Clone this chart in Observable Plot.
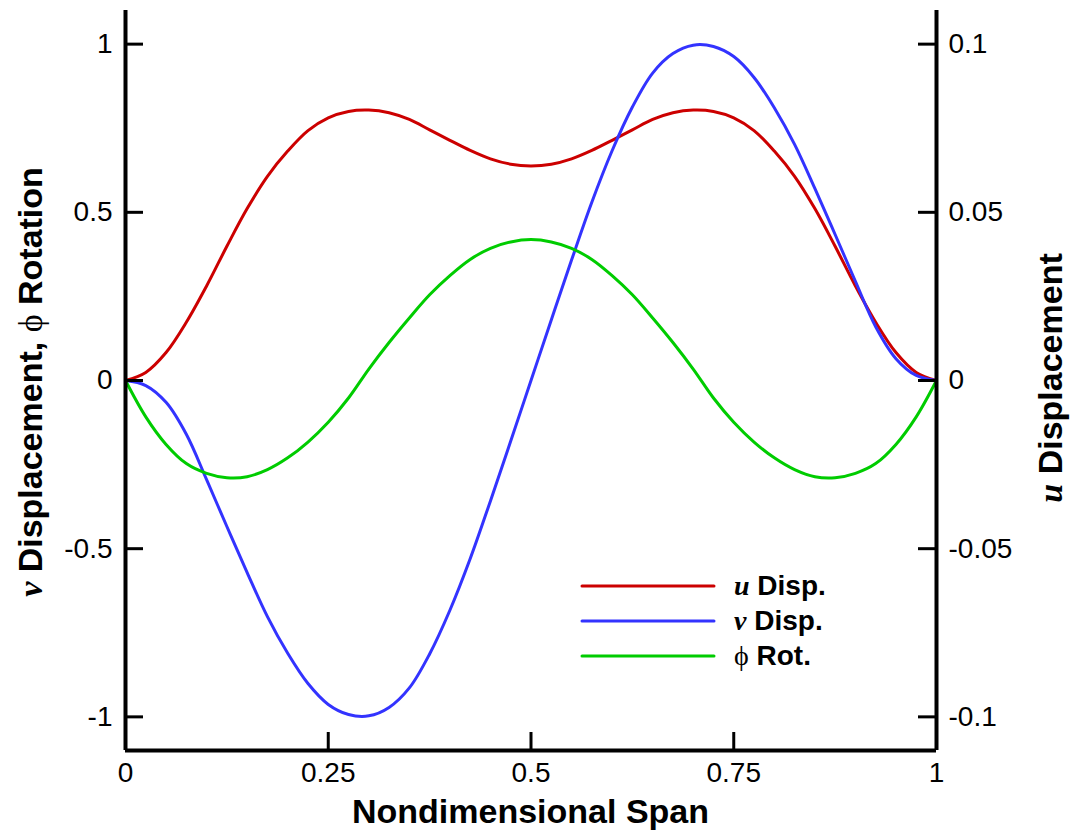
<!DOCTYPE html>
<html><head><meta charset="utf-8">
<script src="https://cdn.jsdelivr.net/npm/d3@7"></script>
<script src="https://cdn.jsdelivr.net/npm/@observablehq/plot@0.6"></script>
<style>
body{margin:0;background:#fff;}
#chart{position:relative;width:1071px;height:835px;}
</style></head><body><div id="chart"></div>
<script>
const span = [0,0.025,0.05,0.075,0.1,0.125,0.15,0.175,0.2,0.225,0.25,0.275,0.3,0.325,0.35,0.375,0.4,0.425,0.45,0.475,0.5,0.525,0.55,0.575,0.6,0.625,0.65,0.675,0.7,0.725,0.75,0.775,0.8,0.825,0.85,0.875,0.9,0.925,0.95,0.975,1];
const uDisp = [0,0.0024,0.0083,0.0173,0.0281,0.0399,0.0511,0.0607,0.0682,0.0743,0.0781,0.08,0.0804,0.0796,0.0776,0.0745,0.0714,0.0684,0.0659,0.0643,0.0638,0.0643,0.0659,0.0684,0.0714,0.0745,0.0776,0.0796,0.0804,0.08,0.0781,0.0743,0.0682,0.0607,0.0511,0.0399,0.0281,0.0173,0.0083,0.0024,0];
const vDisp = [0,-0.015,-0.065,-0.16,-0.295,-0.434,-0.571,-0.702,-0.811,-0.901,-0.963,-0.993,-0.997,-0.972,-0.914,-0.813,-0.683,-0.53,-0.358,-0.18,0,0.18,0.358,0.53,0.683,0.813,0.914,0.972,0.997,0.993,0.963,0.901,0.811,0.702,0.571,0.434,0.295,0.16,0.065,0.015,0];
const phiRot = [0,-0.108,-0.19,-0.247,-0.276,-0.289,-0.286,-0.265,-0.23,-0.183,-0.124,-0.052,0.034,0.113,0.186,0.255,0.312,0.36,0.393,0.412,0.419,0.412,0.393,0.36,0.312,0.255,0.186,0.113,0.034,-0.052,-0.124,-0.183,-0.23,-0.265,-0.286,-0.289,-0.276,-0.247,-0.19,-0.108,0];
const leftTicks = [-1,-0.5,0,0.5,1];
const rightTickLabels = ["-0.1","-0.05","0","0.05","0.1"];
const spanTicks = [0,0.25,0.5,0.75,1];
const colors = ["#cc0000","#3333ff","#00cc00"];

const W=1071,H=835,mL=125,mR=135,mT=10,mB=85;
const yDomain=[-1.1,1.1];
const plotW=W-mL-mR, plotH=H-mT-mB, tickLen=18;
const rows = span.map((x,i)=>({x,u:uDisp[i],v:vDisp[i],phi:phiRot[i]}));
const sans = "'Liberation Sans', Arial, sans-serif";
const serif = "'Liberation Serif', 'Times New Roman', serif";

const plot = Plot.plot({
  width:W,height:H,marginLeft:mL,marginRight:mR,marginTop:mT,marginBottom:mB,
  x:{domain:[0,1]}, y:{domain:yDomain},
  style:{fontFamily:sans,fontSize:"28px",color:"#000",background:"#fff",overflow:"visible"},
  marks:[
    Plot.line(rows,{x:"x",y:d=>d.u*10,stroke:colors[0],strokeWidth:3,curve:"catmull-rom"}),
    Plot.line(rows,{x:"x",y:"v",stroke:colors[1],strokeWidth:3,curve:"catmull-rom"}),
    Plot.line(rows,{x:"x",y:"phi",stroke:colors[2],strokeWidth:3,curve:"catmull-rom"}),
    Plot.ruleX([0,1],{stroke:"#000",strokeWidth:4}),
    Plot.ruleY([yDomain[0]],{stroke:"#000",strokeWidth:4}),
    Plot.tickY(leftTicks,{y:d=>d,insetRight:plotW-tickLen,strokeWidth:3}),
    Plot.tickY(leftTicks,{y:d=>d,insetLeft:plotW-tickLen,strokeWidth:3}),
    Plot.tickX(spanTicks,{x:d=>d,insetTop:plotH-tickLen,strokeWidth:3}),
    Plot.axisY(leftTicks,{anchor:"left",tickSize:0,tickPadding:13,tickFormat:d=>String(d),label:null}),
    Plot.axisY(leftTicks,{anchor:"right",tickSize:0,tickPadding:12,tickFormat:d=>rightTickLabels[leftTicks.indexOf(d)],label:null}),
    Plot.axisX(spanTicks,{anchor:"bottom",tickSize:0,tickPadding:12,tickFormat:d=>String(d),label:null})
  ]
});
document.getElementById("chart").appendChild(plot);

const svg = d3.select(plot);
// bottom title
svg.append("text").attr("x",mL+plotW/2).attr("y",823).attr("text-anchor","middle")
  .attr("font-family",sans).attr("font-weight","bold").attr("font-size",34).attr("fill","#000")
  .text("Nondimensional Span");
// left title
const lt = svg.append("text").attr("transform","translate(42,382) rotate(-90)").attr("text-anchor","middle")
  .attr("font-family",sans).attr("font-weight","bold").attr("font-size",34).attr("fill","#000");
lt.append("tspan").attr("font-family",serif).attr("font-style","italic").text("v");
lt.append("tspan").text(" Displacement, ");
lt.append("tspan").attr("font-family",serif).attr("font-weight","normal").text("\u03D5");
lt.append("tspan").text(" Rotation");
// right title
const rt = svg.append("text").attr("transform","translate(1062,378) rotate(-90)").attr("text-anchor","middle")
  .attr("font-family",sans).attr("font-weight","bold").attr("font-size",34).attr("fill","#000");
rt.append("tspan").attr("font-family",serif).attr("font-style","italic").text("u");
rt.append("tspan").text(" Displacement");
// legend
const legendItems = [["u"," Disp.",true],["v"," Disp.",true],["\u03D5"," Rot.",false]];
const lg = svg.append("g").attr("text-anchor","start");
legendItems.forEach((it,i)=>{
  const y = 586 + i*35;
  lg.append("line").attr("x1",582).attr("x2",714).attr("y1",y).attr("y2",y)
    .attr("stroke",colors[i]).attr("stroke-width",3).attr("stroke-linecap","round");
  const t = lg.append("text").attr("x",734).attr("y",y+9).attr("text-anchor","start").attr("font-family",sans)
    .attr("font-weight","bold").attr("font-size",28).attr("fill","#000");
  const s = t.append("tspan").attr("font-family",serif).text(it[0]);
  if (it[2]) s.attr("font-style","italic"); else s.attr("font-weight","normal");
  t.append("tspan").text(it[1]);
});
</script></body></html>
